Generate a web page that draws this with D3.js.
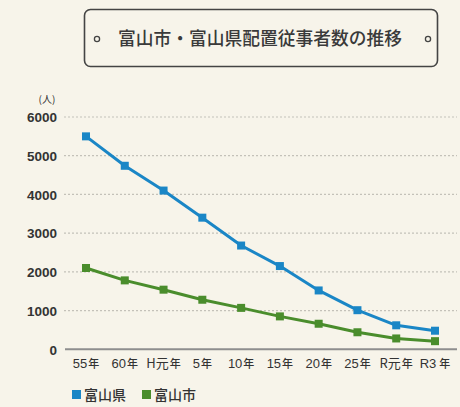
<!DOCTYPE html>
<html><head><meta charset="utf-8">
<script src="https://cdn.jsdelivr.net/npm/d3@7"></script>
<style>
html,body{margin:0;padding:0;background:#f7f4ea;}
svg{display:block;}
</style></head>
<body>
<svg id="chart" width="460" height="407"></svg>
<script>
const categories = ["55","60","H元","5","10","15","20","25","R元","R3"];
const toyamaPref = [5500, 4740, 4100, 3400, 2680, 2150, 1520, 1010, 620, 480];
const toyamaCity = [2100, 1780, 1540, 1280, 1070, 850, 660, 440, 280, 210];
const yTicks = [0, 1000, 2000, 3000, 4000, 5000, 6000];
const seriesNames = ["富山県", "富山市"];
const colors = ["#1a86c6", "#4a8d2c"];
const title = "富山市・富山県配置従事者数の推移";

const svg = d3.select("#chart");
const sans = "'Liberation Sans', Arial, sans-serif";
const cjk = "'Noto Sans CJK JP', sans-serif";

// title box
svg.append("rect").attr("x",84.5).attr("y",9.5).attr("width",353).attr("height",57)
  .attr("rx",6).attr("fill","none").attr("stroke","#444").attr("stroke-width",1.6);
[97, 428].forEach(cx => svg.append("circle").attr("cx",cx).attr("cy",39).attr("r",2.6)
  .attr("fill","none").attr("stroke","#444").attr("stroke-width",1.3));
svg.append("text").attr("x",118).attr("y",45).attr("textLength",284).attr("lengthAdjust","spacingAndGlyphs")
  .attr("font-family",cjk).attr("font-size",18.5).attr("font-weight",500).attr("fill","#3a3a3a").text(title);

const x = d3.scalePoint().domain(categories).range([86, 435]);
const y = d3.scaleLinear().domain([0, 6000]).range([349.3, 117]);

// grid
svg.append("g").selectAll("line").data(yTicks.filter(d=>d>0)).join("line")
  .attr("x1",64).attr("x2",457).attr("y1",d=>y(d)).attr("y2",d=>y(d))
  .attr("stroke","#c4c1b9").attr("stroke-width",1.2).attr("stroke-dasharray","2,2");

// y axis labels
const yAxis = d3.axisLeft(y).tickValues(yTicks).tickSize(0).tickPadding(0).tickFormat(d3.format("d"));
const yg = svg.append("g").attr("transform","translate(57,0)").call(yAxis);
yg.select(".domain").remove();
yg.selectAll("text").attr("font-family",sans).attr("font-size",13.5).attr("fill","#333")
  .attr("dy","0.35em").attr("font-weight","bold");

svg.append("text").attr("x",47).attr("y",103).attr("text-anchor","middle")
  .attr("font-family",cjk).attr("font-size",10).attr("fill","#333").text("(人)");

// baseline
svg.append("line").attr("x1",65).attr("x2",457).attr("y1",y(0)).attr("y2",y(0))
  .attr("stroke","#8e8e8e").attr("stroke-width",2);

// x axis labels
const xg = svg.append("g").attr("transform","translate(0,"+(y(0))+")")
  .call(d3.axisBottom(x).tickSize(0).tickPadding(0).tickFormat(""));
xg.select(".domain").remove();
categories.forEach(c => {
  const t = svg.append("text").attr("x",x(c)).attr("y",368).attr("text-anchor","middle")
    .attr("font-family",sans).attr("fill","#333");
  t.append("tspan").attr("font-size",13).attr("font-family", /元/.test(c) ? cjk : sans).text(c);
  t.append("tspan").attr("font-size",11).attr("font-family",cjk).attr("font-weight",500).attr("dx",c==="R3"?3:1).text("年");
});

// lines
const series = [toyamaPref, toyamaCity];
const line = d3.line().x((d,i)=>x(categories[i])).y(d=>y(d));
series.forEach((s,k) => {
  svg.append("path").datum(s).attr("d",line).attr("fill","none")
    .attr("stroke",colors[k]).attr("stroke-width",3).attr("stroke-linejoin","round");
  svg.append("g").selectAll("rect").data(s).join("rect")
    .attr("x",(d,i)=>x(categories[i])-4).attr("y",d=>y(d)-4)
    .attr("width",8).attr("height",8).attr("fill",colors[k]);
});

// legend
const lx = [72, 142];
seriesNames.forEach((n,k) => {
  svg.append("rect").attr("x",lx[k]).attr("y",390).attr("width",9).attr("height",9).attr("fill",colors[k]);
  svg.append("text").attr("x",lx[k]+12).attr("y",400).attr("font-family",cjk).attr("font-size",14)
    .attr("font-weight",500).attr("fill","#333").text(n);
});
</script>
</body></html>
